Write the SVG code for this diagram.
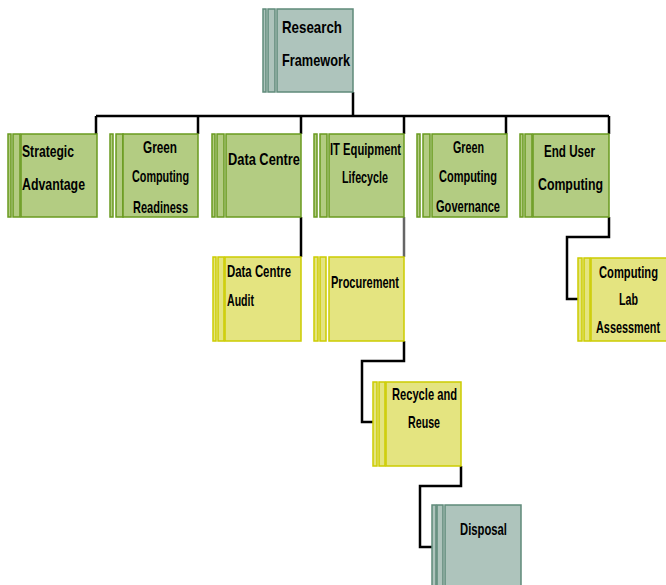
<svg xmlns="http://www.w3.org/2000/svg" width="666" height="585" viewBox="0 0 666 585">
<style>
.g rect{fill:#b3cc82;stroke:#6a9a1f;stroke-width:1.5}
.y rect{fill:#e4e480;stroke:#cccc00;stroke-width:1.5}
.t rect{fill:#aec4bc;stroke:#5f8a7a;stroke-width:1.5}
text{font-family:"Liberation Sans",Arial,sans-serif;font-weight:bold;font-size:17px;fill:#000}
.lines path{fill:none;stroke:#000;stroke-width:2.5}
</style>
<g class="lines" id="connectors">
<path d="M353,92 V116"/>
<path d="M96,116 H609"/>
<path d="M96,116 V134 M198,116 V134 M301,116 V134 M404,116 V134 M506,116 V134 M609,116 V134"/>
<path d="M301,217 V257"/>
<path d="M404,217 V257" style="stroke:#666"/>
<path d="M404,341 V361 H362 V422 H373"/>
<path d="M461,466 V486 H420 V547 H432"/>
<path d="M609,217 V237 H567 V299 H578"/>
</g>
<g id="research" class="t">
<rect x="263" y="9" width="3" height="83"/><rect x="268" y="9" width="7" height="83"/><rect x="277" y="9" width="76" height="83"/>
<text x="282" y="33" textLength="60" lengthAdjust="spacingAndGlyphs">Research</text><text x="282" y="66" textLength="68" lengthAdjust="spacingAndGlyphs">Framework</text>
</g>
<g id="strategic" class="g">
<rect x="8" y="134" width="3" height="83"/><rect x="13" y="134" width="7" height="83"/><rect x="21" y="134" width="76" height="83"/>
<text x="22" y="157" textLength="52" lengthAdjust="spacingAndGlyphs">Strategic</text><text x="22" y="190" textLength="63" lengthAdjust="spacingAndGlyphs">Advantage</text>
</g>
<g id="readiness" class="g">
<rect x="110" y="134" width="3" height="83"/><rect x="116" y="134" width="7" height="83"/><rect x="123" y="134" width="75" height="83"/>
<text x="143" y="153" textLength="34" lengthAdjust="spacingAndGlyphs">Green</text><text x="132" y="182" textLength="57" lengthAdjust="spacingAndGlyphs">Computing</text><text x="133" y="213" textLength="55" lengthAdjust="spacingAndGlyphs">Readiness</text>
</g>
<g id="datacentre" class="g">
<rect x="212" y="134" width="3" height="83"/><rect x="217" y="134" width="7" height="83"/><rect x="226" y="134" width="75" height="83"/>
<text x="228" y="165" textLength="72" lengthAdjust="spacingAndGlyphs">Data Centre</text>
</g>
<g id="itequipment" class="g">
<rect x="314" y="134" width="3" height="83"/><rect x="320" y="134" width="7" height="83"/><rect x="329" y="134" width="75" height="83"/>
<text x="330" y="155" textLength="71" lengthAdjust="spacingAndGlyphs">IT Equipment</text><text x="342" y="183" textLength="46" lengthAdjust="spacingAndGlyphs">Lifecycle</text>
</g>
<g id="governance" class="g">
<rect x="417" y="134" width="3" height="83"/><rect x="423" y="134" width="7" height="83"/><rect x="432" y="134" width="75" height="83"/>
<text x="453" y="153" textLength="31" lengthAdjust="spacingAndGlyphs">Green</text><text x="439" y="182" textLength="58" lengthAdjust="spacingAndGlyphs">Computing</text><text x="436" y="212" textLength="64" lengthAdjust="spacingAndGlyphs">Governance</text>
</g>
<g id="enduser" class="g">
<rect x="520" y="134" width="3" height="83"/><rect x="525" y="134" width="7" height="83"/><rect x="533" y="134" width="76" height="83"/>
<text x="544" y="157" textLength="51" lengthAdjust="spacingAndGlyphs">End User</text><text x="538" y="190" textLength="65" lengthAdjust="spacingAndGlyphs">Computing</text>
</g>
<g id="audit" class="y">
<rect x="213" y="257" width="3" height="84"/><rect x="218" y="257" width="6" height="84"/><rect x="225" y="257" width="76" height="84"/>
<text x="227" y="277" textLength="64" lengthAdjust="spacingAndGlyphs">Data Centre</text><text x="227" y="306" textLength="27" lengthAdjust="spacingAndGlyphs">Audit</text>
</g>
<g id="procurement" class="y">
<rect x="314" y="257" width="4" height="84"/><rect x="320" y="257" width="6" height="84"/><rect x="329" y="257" width="75" height="84"/>
<text x="331" y="288" textLength="68" lengthAdjust="spacingAndGlyphs">Procurement</text>
</g>
<g id="lab" class="y">
<rect x="578" y="258" width="4" height="83"/><rect x="584" y="258" width="6" height="83"/><rect x="591" y="258" width="78" height="83"/>
<text transform="translate(599,278) scale(0.65,1)" textLength="90.8" lengthAdjust="spacingAndGlyphs">Computing</text>
<text transform="translate(619,305) scale(0.65,1)" textLength="29.2" lengthAdjust="spacingAndGlyphs">Lab</text>
<text transform="translate(596,333) scale(0.65,1)" textLength="98.5" lengthAdjust="spacingAndGlyphs">Assessment</text>
</g>
<g id="recycle" class="y">
<rect x="373" y="382" width="4" height="84"/><rect x="379" y="382" width="6" height="84"/><rect x="386" y="382" width="75" height="84"/>
<text x="392" y="400" textLength="65" lengthAdjust="spacingAndGlyphs">Recycle and</text><text x="408" y="428" textLength="32" lengthAdjust="spacingAndGlyphs">Reuse</text>
</g>
<g id="disposal" class="t">
<rect x="432" y="505" width="4" height="90"/><rect x="437" y="505" width="6" height="90"/><rect x="445" y="505" width="76" height="90"/>
<text x="460" y="535" textLength="47" lengthAdjust="spacingAndGlyphs">Disposal</text>
</g>
</svg>
